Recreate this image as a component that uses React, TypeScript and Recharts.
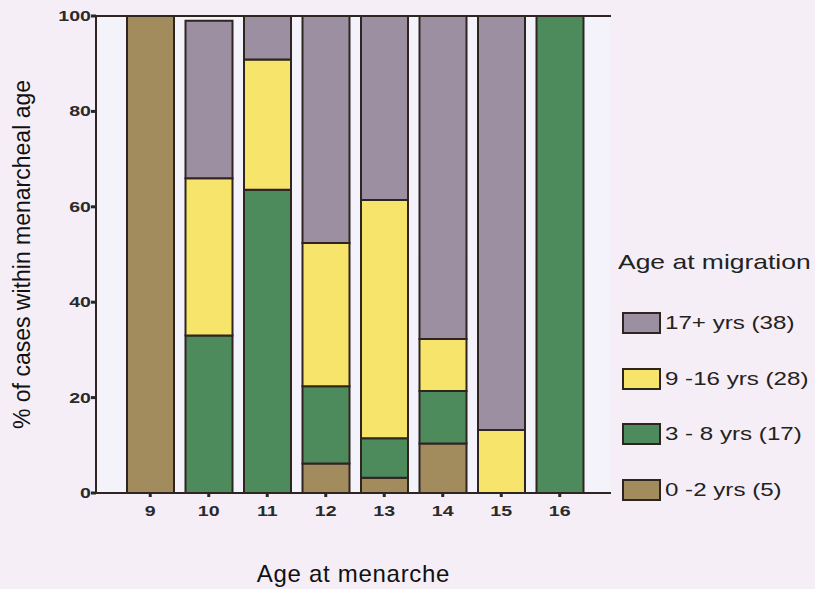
import {
  BarChart,
  Bar,
  XAxis,
  YAxis,
  CartesianGrid,
  ReferenceLine,
} from 'recharts';

const AGES = ['9', '10', '11', '12', '13', '14', '15', '16'];

// % of cases within each menarcheal age, by age at migration group
const AGE_0_2 = [100, 0, 0, 6.2, 3.2, 10.4, 0, 0];
const AGE_3_8 = [0, 33, 63.6, 16.2, 8.3, 11, 0, 100];
const AGE_9_16 = [0, 33, 27.3, 30, 49.9, 10.9, 13.2, 0];
const AGE_17_PLUS = [0, 33, 9.1, 47.6, 38.6, 67.7, 86.8, 0];

const Y_TICKS = [0, 20, 40, 60, 80, 100];

const SERIES = [
  { key: 'a0', name: '0 -2 yrs (5)', values: AGE_0_2, color: '#a28b5d' },
  { key: 'a3', name: '3 - 8 yrs (17)', values: AGE_3_8, color: '#4e8b5c' },
  { key: 'a9', name: '9 -16 yrs (28)', values: AGE_9_16, color: '#f6e46b' },
  { key: 'a17', name: '17+ yrs (38)', values: AGE_17_PLUS, color: '#9d8fa2' },
];

const INK = '#2e2420';
const FONT = 'Arial, "Liberation Sans", sans-serif';
// the scanned figure's lettering is noticeably wider than plain Arial
const STRETCH = 1.35;

const data = AGES.map((age, i) => {
  const row: Record<string, any> = { age };
  SERIES.forEach((s) => {
    row[s.key] = s.values[i];
  });
  return row;
});

function XTick({ x, y, payload }: any) {
  return (
    <g transform={`translate(${x},${y}) scale(${STRETCH},1)`}>
      <text x={0} y={0} dy={17} textAnchor='middle' fill='#2a2a2a' fontSize={14.5} fontWeight='bold' fontFamily={FONT}>
        {payload.value}
      </text>
    </g>
  );
}

function YTick({ x, y, payload }: any) {
  return (
    <g transform={`translate(${x + 2},${y}) scale(${STRETCH},1)`}>
      <text x={0} y={0} dy={5} textAnchor='end' fill='#2a2a2a' fontSize={14.5} fontWeight='bold' fontFamily={FONT}>
        {payload.value}
      </text>
    </g>
  );
}

function MigrationLegend() {
  // legend lists the groups top-down, reverse of stack order
  const items = [...SERIES].reverse();
  return (
    <div style={{ position: 'absolute', left: 618, top: 250, fontFamily: FONT, color: '#222' }}>
      <div
        style={{
          fontSize: 21,
          marginBottom: 38,
          whiteSpace: 'nowrap',
          transform: 'scaleX(1.26)',
          transformOrigin: 'left center',
        }}
      >
        Age at migration
      </div>
      {items.map((s) => (
        <div
          key={s.key}
          style={{ display: 'flex', alignItems: 'center', height: 22, marginBottom: 33.5, marginLeft: 4 }}
        >
          <span
            style={{
              display: 'inline-block',
              width: 35,
              height: 18,
              background: s.color,
              border: `2px solid ${INK}`,
              marginRight: 4,
            }}
          />
          <span
            style={{
              fontSize: 19,
              whiteSpace: 'nowrap',
              display: 'inline-block',
              transform: 'scaleX(1.27)',
              transformOrigin: 'left center',
            }}
          >
            {s.name}
          </span>
        </div>
      ))}
    </div>
  );
}

export default function App() {
  return (
    <div
      style={{
        position: 'absolute',
        left: 0,
        top: 0,
        width: 815,
        height: 589,
        background: '#f6eef6',
        overflow: 'hidden',
      }}
    >
      <BarChart
        width={815}
        height={589}
        data={data}
        margin={{ top: 16, right: 204, bottom: 4, left: 0 }}
        barSize={47}
      >
        <CartesianGrid fill='#f4f3fb' horizontal={false} vertical={false} />
        <XAxis
          dataKey='age'
          height={92}
          padding={{ left: 25, right: 22 }}
          axisLine={{ stroke: INK, strokeWidth: 2 }}
          tickLine={{ stroke: INK, strokeWidth: 3 }}
          tickSize={4}
          tick={<XTick />}
          label={{
            value: 'Age at menarche',
            position: 'insideBottom',
            offset: 3,
            style: { fill: '#111', fontSize: 24, letterSpacing: 0.7, fontFamily: FONT },
          }}
        />
        <YAxis
          width={96}
          domain={[0, 100]}
          ticks={Y_TICKS}
          allowDataOverflow
          axisLine={{ stroke: INK, strokeWidth: 2 }}
          tickLine={{ stroke: INK, strokeWidth: 3 }}
          tickSize={5}
          tick={<YTick />}
          label={{
            value: '% of cases within menarcheal age',
            angle: -90,
            position: 'insideLeft',
            offset: 22,
            style: { fill: '#111', fontSize: 23, fontFamily: FONT, textAnchor: 'middle' },
          }}
        />
        <ReferenceLine y={100} stroke={INK} strokeWidth={2} />
        {SERIES.map((s) => (
          <Bar
            key={s.key}
            dataKey={s.key}
            name={s.name}
            stackId='mig'
            fill={s.color}
            stroke={INK}
            strokeWidth={2}
            isAnimationActive={false}
          />
        ))}
      </BarChart>
      <MigrationLegend />
    </div>
  );
}
